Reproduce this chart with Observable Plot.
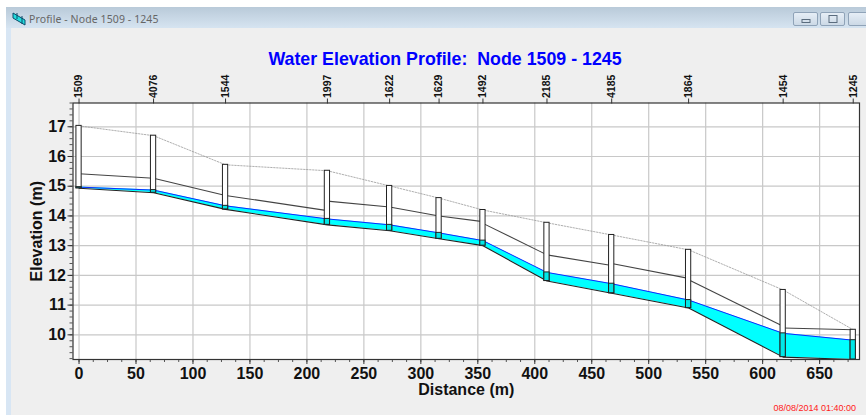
<!DOCTYPE html>
<html>
<head>
<meta charset="utf-8">
<script src="https://cdn.jsdelivr.net/npm/d3@7"></script>
<script src="https://cdn.jsdelivr.net/npm/@observablehq/plot@0.6"></script>
<style>
html,body{margin:0;padding:0;background:#fff;overflow:hidden;}
#win{position:relative;width:866px;height:415px;overflow:hidden;font-family:"Liberation Sans",Arial,sans-serif;background:#fff;}
#bar{position:absolute;left:6px;top:7px;right:0;height:21px;background:linear-gradient(#b9cad9,#d6e4f1);}
#side{position:absolute;left:6px;top:28px;width:5px;bottom:0;background:#d8e6f4;}
#body{position:absolute;left:11px;top:28px;right:0;bottom:0;background:#efefef;}
#wtitle{position:absolute;left:29px;top:12px;font:10.5px "Noto Sans","DejaVu Sans",sans-serif;color:#666;letter-spacing:.1px;}
#icon{position:absolute;left:12px;top:12px;}
.btn{position:absolute;top:12px;height:14px;border:1px solid #8fa3b8;border-radius:2px;background:linear-gradient(#e6eef6,#ccd9e6);box-sizing:border-box;}
.btn i{position:absolute;left:50%;top:50%;transform:translate(-50%,-50%);border:1px solid #5a6c7e;box-sizing:border-box;display:block;}
#ctitle{position:absolute;left:0;width:890px;top:49px;text-align:center;font:bold 17.8px "Liberation Sans",Arial,sans-serif;color:#0000ff;white-space:pre;}
#stamp{position:absolute;right:10px;top:403px;font:9px "Liberation Sans",Arial,sans-serif;color:#ff2020;}
#plot{position:absolute;left:0;top:0;}
#plot svg{background:transparent;}
</style>
</head>
<body>
<div id="win">
  <div id="bar"></div><div id="side"></div><div id="body"></div>
  <svg id="icon" width="15" height="14"><path d="M1 1 L1 6 L13 13 L13 8Z" fill="#22dddd" stroke="#0a4a6a"/><path d="M5 1V7M10 4V12" stroke="#0a4a6a"/></svg>
  <div id="wtitle">Profile - Node 1509 - 1245</div>
  <div class="btn" style="left:793px;width:25px"><i style="width:9px;height:4px;margin-top:2px"></i></div>
  <div class="btn" style="left:820px;width:25px"><i style="width:9px;height:8px"></i></div>
  <div class="btn" style="left:848px;width:24px"></div>
  <div id="ctitle">Water Elevation Profile:  Node 1509 - 1245</div>
  <div id="plot"></div>
  <div id="stamp">08/08/2014 01:40:00</div>
</div>
<script>
const nodeNames = ["1509","4076","1544","1997","1622","1629","1492","2185","4185","1864","1454","1245"];
const nodeDistance = [0,65.4,128.6,218,272.6,316,354.5,410.7,467.5,535,618,679.5];
const rimElevation = [17.03,16.7,15.72,15.52,15.01,14.6,14.2,13.77,13.36,12.86,11.51,10.17];
const invertElevation = [14.93,14.78,14.22,13.7,13.5,13.23,13.0,11.81,11.4,10.9,9.25,9.17];
const waterElevation = [14.97,14.87,14.34,13.9,13.7,13.43,13.17,12.1,11.72,11.17,10.05,9.82];
const crownStart = [15.42,15.27,14.69,14.5,14.3,14.0,13.75,12.69,12.4,11.85,10.23];
const crownEnd = [15.27,14.69,14.18,14.3,14.0,13.81,12.69,12.33,11.9,10.29,10.17];
const xTicks = d3.range(0,651,50);
const xMinor = d3.range(0,686,12.5);
const yTicks = [10,11,12,13,14,15,16,17];
const yMinor = d3.range(9.2,17.81,0.2);

const nodes = nodeNames.map((name,i)=>({name,x:nodeDistance[i],rim:rimElevation[i],inv:invertElevation[i],wat:waterElevation[i]}));
const links = crownStart.map((c,i)=>({x1:nodeDistance[i],x2:nodeDistance[i+1],y1:c,y2:crownEnd[i]}));
const nameAt = new Map(nodes.map(d=>[d.x,d.name]));
const half = 2.3;
const ink = "#222";
const tickFont = {fontFamily:"Liberation Sans",fontWeight:"bold",fontSize:16,fill:"#111"};

const chart = Plot.plot({
  width:866,height:415,
  marginLeft:72.5,marginRight:7,marginTop:102.5,marginBottom:56,
  style:{background:"transparent",overflow:"visible"},
  x:{domain:[-5.3,685],label:null},
  y:{domain:[9.17,17.8],label:null},
  marks:[
    Plot.frame({fill:"#fff"}),
    Plot.ruleX(xTicks,{stroke:"#c8c8c8",strokeWidth:1.2}),
    Plot.ruleY(yTicks,{stroke:"#c8c8c8",strokeWidth:1.2}),
    Plot.areaY(nodes,{x:"x",y1:"inv",y2:"wat",fill:"#00ffff"}),
    Plot.line(nodes,{x:"x",y:"rim",stroke:"#999",strokeWidth:0.8,strokeDasharray:"1.5,1.5"}),
    Plot.link(links,{x1:"x1",x2:"x2",y1:"y1",y2:"y2",stroke:"#444",strokeWidth:1.1}),
    Plot.line(nodes,{x:"x",y:"inv",stroke:ink,strokeWidth:1.1}),
    Plot.line(nodes,{x:"x",y:"wat",stroke:"#1010ff",strokeWidth:0.9}),
    Plot.rect(nodes,{x1:d=>d.x-half,x2:d=>d.x+half,y1:"inv",y2:"rim",fill:"#fff",stroke:ink,strokeWidth:1}),
    Plot.rect(nodes,{x1:d=>d.x-half,x2:d=>d.x+half,y1:"inv",y2:"wat",fill:"#00e8e8",stroke:ink,strokeWidth:1}),
    Plot.axisX(xMinor,{anchor:"bottom",tickSize:3,tickFormat:null,stroke:"#555",text:null,label:null}),
    Plot.axisX(xTicks,{anchor:"bottom",tickSize:5,tickPadding:3,tickFormat:d=>String(d),stroke:"#333",...tickFont,label:null}),
    Plot.axisY(yMinor,{anchor:"left",tickSize:3,stroke:"#555",text:null,label:null}),
    Plot.axisY(yTicks,{anchor:"left",tickSize:5,tickPadding:2,tickFormat:d=>String(d),stroke:"#333",...tickFont,label:null}),
    Plot.axisX(nodeDistance,{anchor:"top",tickSize:5,tickPadding:0,tickRotate:-90,tickFormat:d=>nameAt.get(d),stroke:"#333",fontFamily:"Liberation Sans",fontWeight:"bold",fontSize:10.5,fill:"#111",label:null}),
    Plot.frame({stroke:"#333",strokeWidth:1.2}),
    Plot.text(["Distance (m)"],{frameAnchor:"bottom",dy:35,text:d=>d,fontFamily:"Liberation Sans",fontWeight:"bold",fontSize:16,fill:"#111"}),
    Plot.text(["Elevation (m)"],{frameAnchor:"left",dx:-36,rotate:-90,textAnchor:"middle",text:d=>d,fontFamily:"Liberation Sans",fontWeight:"bold",fontSize:16,fill:"#111"})
  ]
});
document.getElementById("plot").append(chart);
</script>
</body>
</html>
